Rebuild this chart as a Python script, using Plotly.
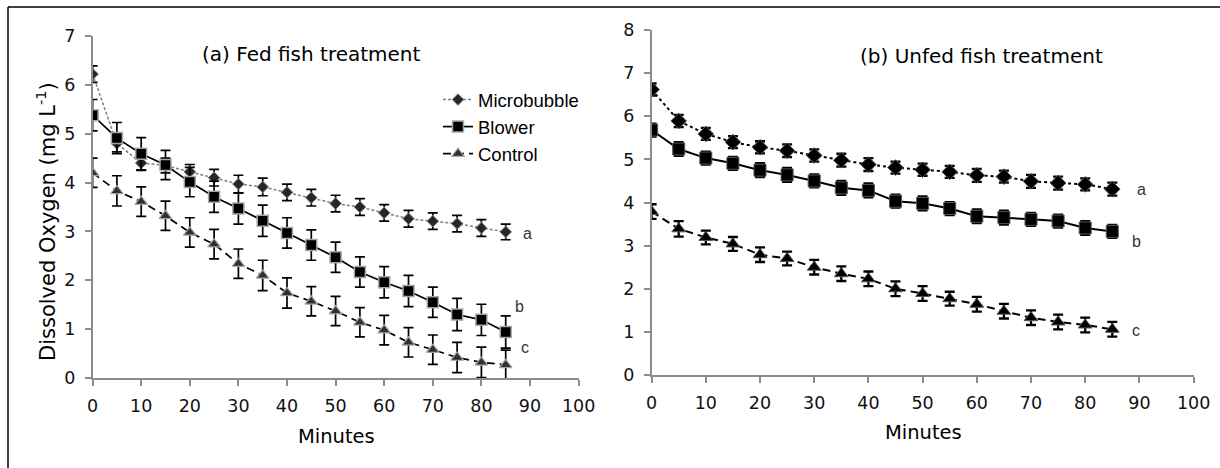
import plotly.graph_objects as go

# ---------------- data ----------------
minutes = [0, 5, 10, 15, 20, 25, 30, 35, 40, 45, 50, 55, 60, 65, 70, 75, 80, 85]

# (a) Fed fish treatment
fed_micro = [6.22, 4.80, 4.40, 4.35, 4.22, 4.10, 3.97, 3.91, 3.80, 3.69, 3.57, 3.50, 3.38, 3.26, 3.21, 3.16, 3.07, 2.99]
fed_micro_err = [0.17, 0.17, 0.15, 0.15, 0.15, 0.17, 0.18, 0.18, 0.17, 0.17, 0.17, 0.17, 0.17, 0.17, 0.17, 0.17, 0.17, 0.16]
fed_blower = [5.38, 4.91, 4.59, 4.36, 4.01, 3.71, 3.47, 3.22, 2.97, 2.72, 2.47, 2.17, 1.96, 1.78, 1.55, 1.30, 1.19, 0.94]
fed_blower_err = [0.32, 0.32, 0.33, 0.30, 0.30, 0.32, 0.32, 0.32, 0.31, 0.31, 0.31, 0.31, 0.32, 0.32, 0.31, 0.33, 0.32, 0.33]
fed_control = [4.20, 3.83, 3.61, 3.32, 2.98, 2.74, 2.34, 2.10, 1.74, 1.57, 1.37, 1.14, 0.98, 0.73, 0.58, 0.42, 0.32, 0.27]
fed_control_err = [0.30, 0.31, 0.30, 0.30, 0.30, 0.30, 0.30, 0.31, 0.31, 0.30, 0.30, 0.30, 0.30, 0.30, 0.30, 0.31, 0.31, 0.30]

# (b) Unfed fish treatment
unfed_micro = [6.62, 5.89, 5.59, 5.40, 5.28, 5.20, 5.09, 4.98, 4.88, 4.81, 4.76, 4.71, 4.63, 4.60, 4.49, 4.45, 4.42, 4.31]
unfed_micro_err = [0.14, 0.14, 0.14, 0.14, 0.14, 0.15, 0.14, 0.15, 0.15, 0.14, 0.14, 0.14, 0.15, 0.14, 0.15, 0.15, 0.14, 0.15]
unfed_blower = [5.68, 5.24, 5.03, 4.91, 4.75, 4.64, 4.50, 4.34, 4.28, 4.03, 3.98, 3.86, 3.68, 3.65, 3.61, 3.57, 3.41, 3.33]
unfed_blower_err = [0.15, 0.16, 0.15, 0.15, 0.16, 0.16, 0.15, 0.16, 0.16, 0.15, 0.16, 0.15, 0.16, 0.16, 0.15, 0.15, 0.16, 0.15]
unfed_control = [3.79, 3.39, 3.19, 3.04, 2.79, 2.70, 2.50, 2.35, 2.23, 2.00, 1.89, 1.77, 1.64, 1.48, 1.33, 1.23, 1.16, 1.06]
unfed_control_err = [0.17, 0.18, 0.16, 0.16, 0.17, 0.16, 0.17, 0.17, 0.17, 0.17, 0.17, 0.16, 0.17, 0.17, 0.17, 0.17, 0.17, 0.17]

series_names = ["Microbubble", "Blower", "Control"]
x_ticks = [0, 10, 20, 30, 40, 50, 60, 70, 80, 90, 100]
fed_y_ticks = [0, 1, 2, 3, 4, 5, 6, 7]
unfed_y_ticks = [0, 1, 2, 3, 4, 5, 6, 7, 8]
panel_titles = ["(a) Fed fish treatment", "(b) Unfed fish treatment"]
x_title = "Minutes"
y_title = "Dissolved Oxygen (mg L<sup>-1</sup>)"
letters = ["a", "b", "c"]
fed_letter_pos = [(89.4, 2.95), (87.9, 1.47), (89.0, 0.63)]
unfed_letter_pos = [(90.3, 4.29), (89.4, 3.10), (89.4, 1.04)]

W, H = 1220, 468
TICK_FONT = dict(family="DejaVu Sans", size=17.5, color="#111111")
GREY = "#8c8c8c"

fig = go.Figure()


def add(xaxis, yaxis, y, err, name, line, marker, show, ethick, ewidth):
    fig.add_trace(go.Scatter(
        x=minutes, y=y, name=name, mode="lines+markers",
        xaxis=xaxis, yaxis=yaxis, showlegend=show, legendgroup=name + xaxis,
        line=line, marker=marker,
        error_y=dict(type="data", array=err, visible=True, color="#000000",
                     thickness=ethick, width=ewidth),
    ))


# left panel
add("x", "y", fed_micro, fed_micro_err, series_names[0],
    dict(color="#7f7f7f", width=1.5, dash="3px,2px"),
    dict(symbol="diamond", size=9, color="#262626", line=dict(color="#8a8a8a", width=1)),
    True, 1.7, 5)
add("x", "y", fed_blower, fed_blower_err, series_names[1],
    dict(color="#000000", width=1.7),
    dict(symbol="square", size=11, color="#000000", line=dict(color="#a6a6a6", width=1.5)),
    True, 1.7, 5)
add("x", "y", fed_control, fed_control_err, series_names[2],
    dict(color="#000000", width=1.7, dash="8px,5px"),
    dict(symbol="triangle-up", size=11, color="#303030", line=dict(color="#a6a6a6", width=1.2)),
    True, 1.7, 5)

# right panel
add("x2", "y2", unfed_micro, unfed_micro_err, series_names[0],
    dict(color="#000000", width=2, dash="dot"),
    dict(symbol="diamond", size=12, color="#000000", line=dict(color="#555555", width=1)),
    False, 2.3, 5)
add("x2", "y2", unfed_blower, unfed_blower_err, series_names[1],
    dict(color="#000000", width=2),
    dict(symbol="square", size=12, color="#000000", line=dict(color="#555555", width=1)),
    False, 2.3, 5)
add("x2", "y2", unfed_control, unfed_control_err, series_names[2],
    dict(color="#000000", width=2, dash="8px,5px"),
    dict(symbol="triangle-up", size=12, color="#000000", line=dict(color="#555555", width=1)),
    False, 2.3, 5)


def xaxis_cfg(px0, px1, anchor):
    return dict(domain=[px0 / W, px1 / W], range=[0, 100], tickvals=x_ticks,
                showgrid=False, zeroline=False, showline=True, linecolor=GREY,
                linewidth=1.5, ticks="outside", ticklen=6, tickcolor=GREY,
                tickwidth=1.5, tickfont=TICK_FONT, ticklabelstandoff=5,
                anchor=anchor, automargin=False, fixedrange=True)


def yaxis_cfg(py_top, py_bot, top, ticks, anchor):
    return dict(domain=[1 - py_bot / H, 1 - py_top / H], range=[0, top], tickvals=ticks,
                showgrid=False, zeroline=False, showline=True, linecolor=GREY,
                linewidth=1.5, ticks="outside", ticklen=6, tickcolor=GREY,
                tickwidth=1.5, tickfont=TICK_FONT, ticklabelstandoff=6,
                anchor=anchor, automargin=False, fixedrange=True)


def paper_note(text, px, py, size, angle=0):
    return dict(text=text, xref="paper", yref="paper", x=px / W, y=1 - py / H,
                xanchor="center", yanchor="middle", showarrow=False, textangle=angle,
                font=dict(family="DejaVu Sans", size=size, color="#000"))


annotations = [
    paper_note(panel_titles[0], 311, 54, 20),
    paper_note(panel_titles[1], 981, 56, 20),
    paper_note(x_title, 336, 436, 19.5),
    paper_note(x_title, 923, 432, 19.5),
    paper_note(y_title, 46, 222, 21, -90),
]
# significance letters
for letter, (lx, ly) in zip(letters, fed_letter_pos):
    annotations.append(dict(text=letter, xref="x", yref="y", x=lx, y=ly,
                            xanchor="center", yanchor="middle", showarrow=False,
                            font=dict(family="Liberation Sans Narrow, Liberation Sans", size=16, color="#333")))
for letter, (lx, ly) in zip(letters, unfed_letter_pos):
    annotations.append(dict(text=letter, xref="x2", yref="y2", x=lx, y=ly,
                            xanchor="center", yanchor="middle", showarrow=False,
                            font=dict(family="Liberation Sans Narrow, Liberation Sans", size=16, color="#333")))

shapes = [
    dict(type="line", xref="paper", yref="paper", x0=8 / W, x1=8 / W,
         y0=0, y1=1 - 7 / H, line=dict(color="#000", width=1.5)),
    dict(type="line", xref="paper", yref="paper", x0=8 / W, x1=1.0,
         y0=1 - 7 / H, y1=1 - 7 / H, line=dict(color="#000", width=1.5)),
]

fig.update_layout(
    width=W, height=H, autosize=False,
    margin=dict(l=0, r=0, t=0, b=0, pad=0, autoexpand=False),
    paper_bgcolor="white", plot_bgcolor="white",
    xaxis=xaxis_cfg(92.6, 578.6, "y"),
    yaxis=yaxis_cfg(36, 378, 7, fed_y_ticks, "x"),
    xaxis2=xaxis_cfg(651.6, 1193.6, "y2"),
    yaxis2=yaxis_cfg(30, 375, 8, unfed_y_ticks, "x2"),
    showlegend=True,
    legend=dict(x=438 / W, y=1 - 81 / H, xanchor="left", yanchor="top",
                bgcolor="rgba(0,0,0,0)", borderwidth=0, tracegroupgap=0,
                font=dict(family="Liberation Sans", size=18.5, color="#000"),
                itemclick=False, itemdoubleclick=False),
    annotations=annotations,
    shapes=shapes,
)

fig.write_html("out.html", config=dict(displayModeBar=False),
               post_script="document.body.style.margin='0';document.body.style.overflow='hidden';")
